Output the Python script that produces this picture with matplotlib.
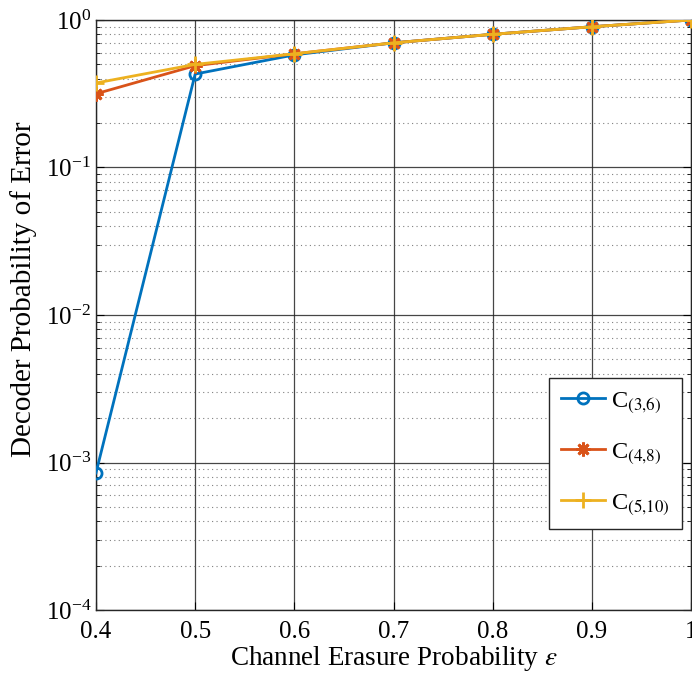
import matplotlib
matplotlib.use("Agg")
import matplotlib.pyplot as plt
import numpy as np
from matplotlib.ticker import LogLocator, NullFormatter

erasure_prob = [0.4, 0.5, 0.6, 0.7, 0.8, 0.9, 1.0]
err_c36 = [8.5e-4, 0.43, 0.58, 0.70, 0.80, 0.90, 1.0]
err_c48 = [0.316, 0.49, 0.59, 0.70, 0.80, 0.90, 1.0]
err_c510 = [0.374, 0.50, 0.59, 0.70, 0.80, 0.90, 1.0]

series_labels = ["C$_{(3{,}6)}$", "C$_{(4{,}8)}$", "C$_{(5{,}10)}$"]
x_ticks = [0.4, 0.5, 0.6, 0.7, 0.8, 0.9, 1.0]
x_tick_labels = ["0.4", "0.5", "0.6", "0.7", "0.8", "0.9", "1"]


def main() -> None:
    plt.rcParams["font.family"] = ["Liberation Serif", "DejaVu Serif"]
    plt.rcParams["mathtext.fontset"] = "stix"

    fig = plt.figure(figsize=(6.92, 6.73), dpi=100)
    ax = fig.add_axes([0.1387, 0.0936, 0.8599, 0.8767])

    ax.semilogy(erasure_prob, err_c36, color="#0072BD", linewidth=2,
                marker="o", markersize=8, markerfacecolor="none",
                markeredgewidth=2, label=series_labels[0], zorder=3)
    ax.semilogy(erasure_prob, err_c48, color="#D95319", linewidth=2,
                marker=(8, 2, 0), markersize=10, markeredgewidth=2,
                label=series_labels[1], zorder=3)
    ax.semilogy(erasure_prob, err_c510, color="#EDB120", linewidth=2,
                marker="+", markersize=11, markeredgewidth=2,
                label=series_labels[2], zorder=3)

    ax.set_xlim(0.4, 1.0)
    ax.set_ylim(1e-4, 1.0)
    ax.set_xticks(x_ticks)
    ax.set_xticklabels(x_tick_labels)
    ax.yaxis.set_major_locator(LogLocator(base=10, numticks=10))
    ax.yaxis.set_minor_locator(LogLocator(base=10, subs=np.arange(2, 10), numticks=20))
    ax.yaxis.set_minor_formatter(NullFormatter())

    ax.grid(True, which="major", color="#262626", linewidth=0.9, alpha=0.85)
    ax.grid(True, which="minor", axis="y", color="#555555", linestyle=(0, (1, 3)),
            linewidth=0.8, alpha=0.75)
    ax.tick_params(which="both", direction="in", labelsize=18, top=False, right=True)
    ax.tick_params(which="major", length=6)
    ax.tick_params(which="minor", length=3)
    ax.tick_params(axis="x", pad=8)
    for spine in ax.spines.values():
        spine.set_color("#262626")
        spine.set_linewidth(1.0)

    ax.set_xlabel("Channel Erasure Probability $\\epsilon$", fontsize=19.5, labelpad=0.5)
    ax.set_ylabel("Decoder Probability of Error", fontsize=21)
    ax.yaxis.set_label_coords(-0.099, 0.544)

    legend = ax.legend(loc="lower right", bbox_to_anchor=(0.985, 0.137),
                       fontsize=17.5, fancybox=False, framealpha=1,
                       edgecolor="#262626", handlelength=1.8, handletextpad=0.25,
                       labelspacing=1.05, borderpad=0.5, borderaxespad=0)
    legend.get_frame().set_linewidth(1.0)

    fig.savefig("out.png", dpi=100)


if __name__ == "__main__":
    main()
